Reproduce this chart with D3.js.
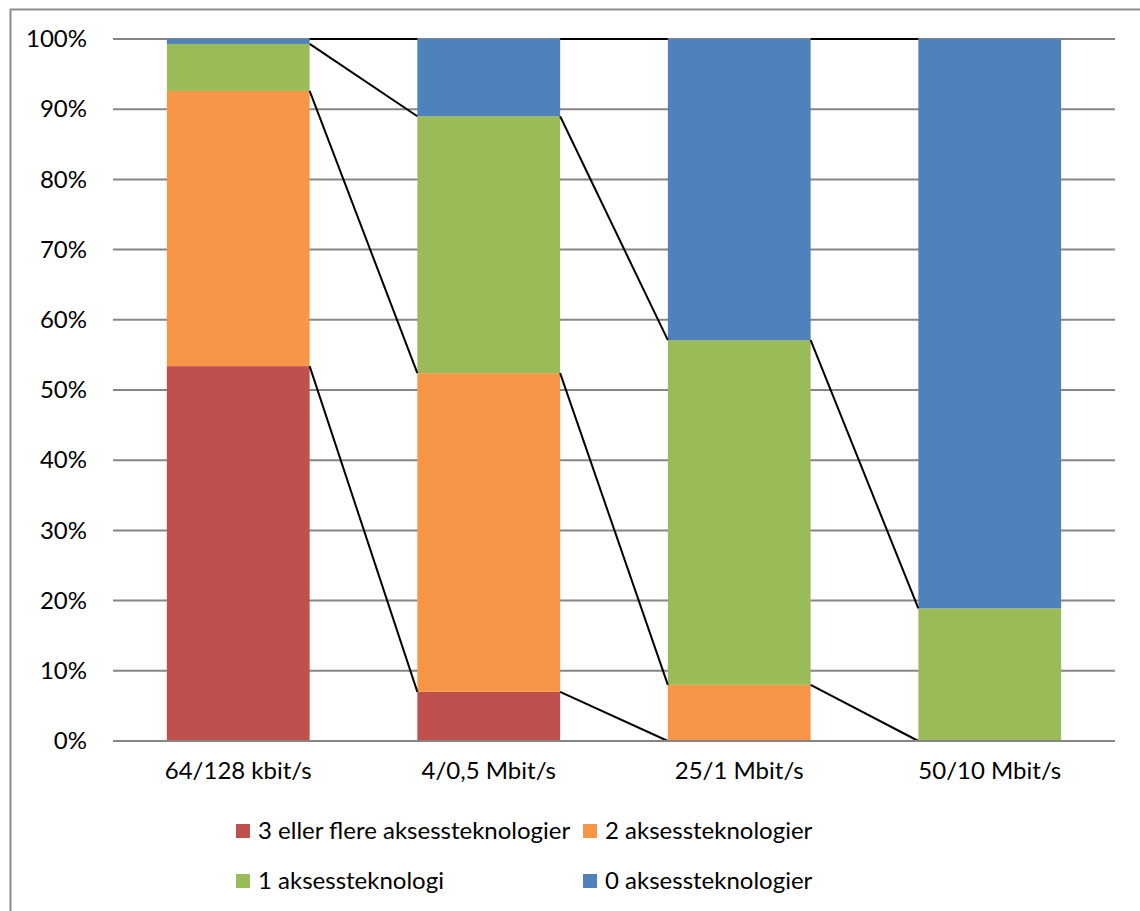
<!DOCTYPE html>
<html>
<head>
<meta charset="utf-8">
<script src="https://cdn.jsdelivr.net/npm/d3@7"></script>
<style>
  html, body { margin: 0; padding: 0; background: #fff; }
  svg { display: block; font-family: Lato, "Open Sans", sans-serif; }
</style>
</head>
<body>
<svg id="chart" width="1140" height="911"></svg>
<script>
// Share of households by number of access technologies, per speed class
const categories = ["64/128 kbit/s", "4/0,5 Mbit/s", "25/1 Mbit/s", "50/10 Mbit/s"];
const seriesNames = ["3 eller flere aksessteknologier", "2 aksessteknologier", "1 aksessteknologi", "0 aksessteknologier"];
const seriesColors = ["#c0504d", "#f79646", "#9bbb59", "#4f81bd"];
const threePlus = [0.534, 0.070, 0.000, 0.000];
const two       = [0.392, 0.454, 0.080, 0.000];
const one       = [0.067, 0.366, 0.491, 0.189];
const zero      = [0.007, 0.110, 0.429, 0.811];
const tickValues = [0, 0.1, 0.2, 0.3, 0.4, 0.5, 0.6, 0.7, 0.8, 0.9, 1.0];

const seriesValues = [threePlus, two, one, zero];
const rows = categories.map((c, i) => {
  const r = { cat: c };
  seriesNames.forEach((s, k) => { r[s] = seriesValues[k][i]; });
  return r;
});

const svg = d3.select("#chart");
const margin = { left: 113, right: 25, top: 39, bottom: 170 };
const W = 1140, H = 911;
const FS = 24;

// outer frame
svg.append("rect")
  .attr("x", 10.5).attr("y", 9.5)
  .attr("width", 1140).attr("height", 920)
  .attr("fill", "none").attr("stroke", "#8c8c8c").attr("stroke-width", 2);

const x = d3.scaleBand().domain(categories)
  .range([margin.left, W - margin.right])
  .paddingInner(0.43).paddingOuter(0.215);
const y = d3.scaleLinear().domain([0, 1]).range([H - margin.bottom, margin.top]);

// gridlines
svg.append("g").selectAll("line").data(tickValues.filter(v => v > 0)).join("line")
  .attr("x1", margin.left).attr("x2", W - margin.right)
  .attr("y1", d => y(d)).attr("y2", d => y(d))
  .attr("stroke", "#868686").attr("stroke-width", 2);

// y axis labels
const yAxis = d3.axisLeft(y).tickValues(tickValues).tickFormat(d3.format(".0%")).tickSize(0).tickPadding(26);
const gy = svg.append("g").attr("transform", `translate(${margin.left},0)`).call(yAxis);
gy.select(".domain").remove();
gy.selectAll("text").attr("font-size", FS).attr("fill", "#000").attr("font-family", "Lato, sans-serif");

// stacked bars
const stack = d3.stack().keys(seriesNames)(rows);
const bw = x.bandwidth();
stack.forEach((layer, k) => {
  svg.append("g").selectAll("rect").data(layer).join("rect")
    .attr("x", d => x(d.data.cat))
    .attr("y", d => y(d[1]))
    .attr("width", bw)
    .attr("height", d => Math.max(0, y(d[0]) - y(d[1])))
    .attr("fill", seriesColors[k]);
});

// series lines joining the tops of each segment between adjacent bars
const gl = svg.append("g");
stack.forEach(layer => {
  for (let i = 0; i < layer.length - 1; i++) {
    gl.append("line")
      .attr("x1", x(categories[i]) + bw).attr("y1", y(layer[i][1]))
      .attr("x2", x(categories[i + 1])).attr("y2", y(layer[i + 1][1]))
      .attr("stroke", "#000").attr("stroke-width", 2);
  }
});

// baseline
svg.append("line")
  .attr("x1", margin.left).attr("x2", W - margin.right)
  .attr("y1", y(0)).attr("y2", y(0))
  .attr("stroke", "#868686").attr("stroke-width", 2);

// x axis labels
const xAxis = d3.axisBottom(x).tickSize(0).tickPadding(21);
const gx = svg.append("g").attr("transform", `translate(0,${y(0)})`).call(xAxis);
gx.select(".domain").remove();
gx.selectAll("text").attr("font-size", FS).attr("fill", "#000").attr("font-family", "Lato, sans-serif");

// legend
const legendPos = [[236, 831], [583, 831], [236, 881], [583, 881]];
const lg = svg.append("g").selectAll("g").data(seriesNames).join("g")
  .attr("transform", (d, i) => `translate(${legendPos[i][0]},${legendPos[i][1]})`);
lg.append("rect").attr("x", 0).attr("y", -7).attr("width", 14).attr("height", 14)
  .attr("fill", (d, i) => seriesColors[i]);
lg.append("text").attr("x", 22).attr("y", 0).attr("dy", "0.35em")
  .attr("font-size", FS).attr("fill", "#000").text(d => d);
</script>
</body>
</html>
